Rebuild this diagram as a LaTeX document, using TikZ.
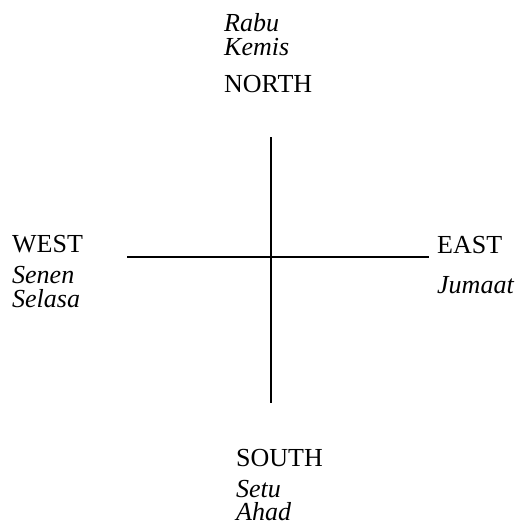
\documentclass[tikz,border=0pt]{standalone}
\usepackage{fontspec}
\setmainfont{Liberation Serif}
\begin{document}
\begin{tikzpicture}[x=1pt,y=-1pt,
  lbl/.style={anchor=base west,inner sep=0pt,text height=18pt,text depth=0pt,font=\fontsize{26}{26}\selectfont},
  day/.style={lbl,font=\fontsize{26}{26}\selectfont\itshape},
  axis/.style={line width=1.6pt}]
\useasboundingbox (0,0) rectangle (516,523);
\coordinate (n) at (271,137);
\coordinate (s) at (271,403);
\coordinate (w) at (127,257);
\coordinate (e) at (429,257);
\draw[axis] (n) -- (s);
\draw[axis] (w) -- (e);
\node[day] (rabu) at (224,31) {Rabu};
\node[day] (kemis) at (224,55) {Kemis};
\node[lbl] (north) at (224,92) {NORTH};
\node[lbl] (west) at (12,252) {WEST};
\node[day] (senen) at (12,283) {Senen};
\node[day] (selasa) at (12,307) {Selasa};
\node[lbl] (east) at (437,253) {EAST};
\node[day] (jumaat) at (437,293) {Jumaat};
\node[lbl] (south) at (236,466) {SOUTH};
\node[day] (setu) at (236,497) {Setu};
\node[day] (ahad) at (236,520) {Ahad};
\end{tikzpicture}
\end{document}
